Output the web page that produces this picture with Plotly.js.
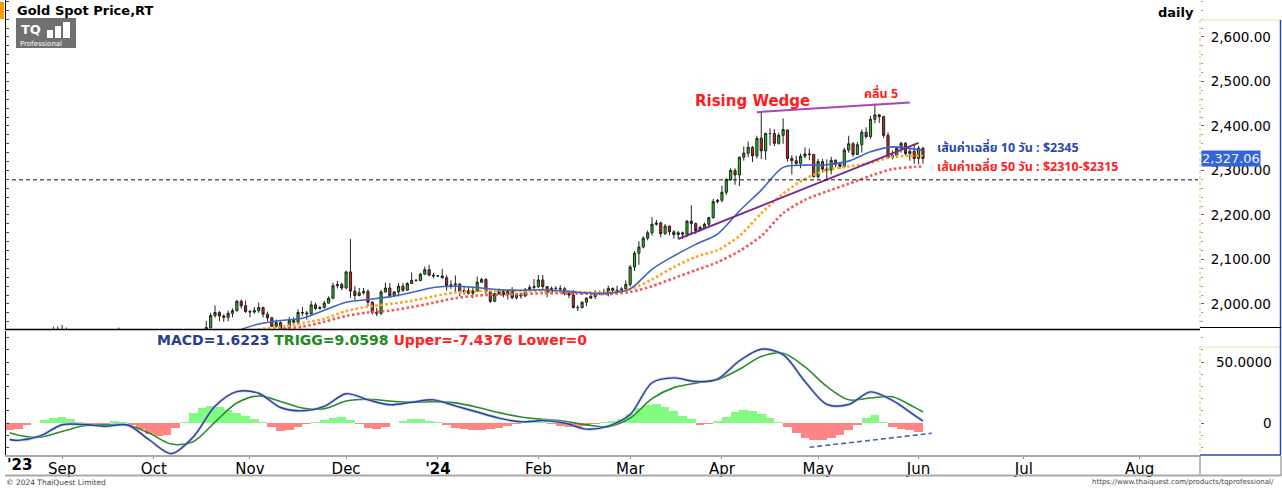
<!DOCTYPE html>
<html><head><meta charset="utf-8">
<script src="https://cdn.plot.ly/plotly-3.0.1.min.js"></script>
<style>html,body{margin:0;padding:0;background:#fff;}#chart{width:1282px;height:488px;}</style>
</head><body><div id="chart"></div>
<script>
// ---------------- DATA ----------------
const firstDate = '2023-08-16';
const open = [
 1902,1891,1889,1889,1894,1898,1915,1917,1914,1920,1937,1943,
 1940,1940,1939,1926,1916,1919,1919,1922,1913,1908,1910,1924,1933,1931,1930,1920,1925,1915,1901,1875,1864,
 1848,1828,1822,1821,1820,1833,1861,1860,1874,1868,1932,1920,1923,1947,1974,1981,1973,1970,1979,1985,2006,1996,
 1983,1982,1985,1992,1977,1969,1950,1958,1940,1946,1963,1959,1981,1980,1978,1998,1990,1992,2002,2013,2041,2044,
 2036,2072,2029,2019,2025,2028,2004,1981,1979,2027,2036,2019,2027,2040,2031,2046,2053,2053,2067,2077,2065,
 2063,2063,2059,2041,2043,2045,2028,2030,2024,2029,2049,2055,2028,2006,2023,2029,2021,2029,2014,2021,2018,2032,2037,
 2039,2054,2039,2025,2035,2035,2034,2024,2020,1992,1992,2004,2013,2017,2025,2025,2024,2035,2031,2029,2034,
 2044,2083,2114,2128,2148,2160,2179,2182,2158,2175,2162,2156,2160,2157,2186,2181,2165,2172,2179,2194,2230,
 2233,2251,2280,2300,2290,2330,2339,2352,2333,2373,2344,2383,2383,2361,2379,2391,2327,2322,2316,2332,2337,2336,
 2286,2320,2303,2301,2323,2314,2309,2346,2360,2336,2358,2386,2376,2415,2425,2421,2379,2329,2334,2350,2361,2338,2343,
 2327,2350];
const high = [
 1904,1896,1894,1896,1903,1918,1922,1924,1923,1938,1949,1949,
 1953,1947,1942,1929,1924,1932,1930,1926,1916,1916,1926,1937,1936,1947,1932,1930,1927,1917,1903,1880,1879,
 1850,1832,1826,1824,1836,1865,1866,1877,1880,1933,1933,1937,1962,1980,1997,1984,1977,1985,1990,2009,2010,2008,
 1987,1993,2003,1994,1983,1971,1965,1961,1947,1971,1970,1988,1993,1984,2007,2003,1996,2007,2017,2048,2052,2048,
 2075,2146,2040,2036,2036,2033,2006,1991,2031,2048,2047,2029,2047,2047,2049,2071,2056,2070,2084,2088,2070,
 2064,2079,2065,2053,2064,2046,2040,2038,2039,2062,2059,2058,2032,2026,2035,2033,2031,2038,2024,2025,2036,2043,2056,
 2065,2065,2040,2039,2040,2042,2038,2026,2031,1998,2006,2015,2022,2031,2030,2034,2041,2037,2041,2038,2053,
 2088,2119,2141,2152,2165,2195,2189,2185,2180,2176,2166,2164,2163,2189,2222,2183,2176,2183,2196,2236,2236,
 2266,2282,2305,2305,2331,2354,2365,2355,2378,2431,2385,2395,2393,2385,2417,2392,2334,2333,2338,2352,2349,2337,
 2326,2326,2325,2331,2325,2320,2351,2378,2364,2364,2392,2397,2422,2450,2427,2423,2386,2345,2354,2365,2364,2352,2360,
 2355,2353];
const low = [
 1890,1885,1884,1888,1893,1896,1912,1904,1913,1917,1935,1937,
 1931,1936,1915,1915,1914,1915,1917,1908,1905,1901,1909,1923,1926,1926,1913,1919,1913,1895,1873,1858,1846,
 1827,1815,1817,1816,1810,1832,1853,1856,1865,1868,1909,1916,1922,1941,1969,1961,1960,1961,1970,1983,1990,1980,
 1970,1978,1980,1970,1961,1948,1947,1935,1932,1939,1956,1953,1973,1965,1975,1986,1987,1990,2001,2011,2035,2031,
 2033,2014,2009,2017,2021,1995,1976,1973,1975,2026,2015,2016,2017,2027,2030,2045,2050,2051,2065,2062,2058,
 2062,2057,2030,2034,2024,2017,2021,2021,2013,2028,2047,2022,2002,2005,2021,2015,2010,2011,2010,2012,2016,2030,2031,
 2036,2030,2015,2022,2029,2026,2019,2013,1990,1984,1990,1995,2012,2011,2020,2020,2017,2025,2025,2024,2031,
 2038,2074,2088,2125,2143,2154,2176,2150,2155,2154,2147,2146,2146,2150,2157,2157,2163,2169,2175,2192,2226,
 2228,2245,2276,2268,2265,2322,2330,2319,2327,2326,2324,2356,2355,2358,2360,2320,2291,2310,2305,2327,2323,2285,
 2282,2296,2277,2291,2307,2303,2306,2340,2331,2335,2340,2372,2371,2406,2407,2373,2326,2325,2328,2340,2334,2322,2315,
 2314,2315];
const close = [
 1891,1889,1889,1894,1898,1915,1917,1914,1920,1937,1943,1940,
 1940,1939,1926,1916,1919,1919,1922,1913,1908,1910,1924,1933,1931,1930,1920,1925,1915,1901,1875,1864,1848,
 1828,1822,1821,1820,1833,1861,1860,1874,1868,1932,1920,1923,1947,1974,1981,1973,1970,1979,1985,2006,1996,1983,
 1982,1985,1992,1977,1969,1950,1958,1940,1946,1963,1959,1981,1980,1978,1998,1990,1992,2002,2013,2041,2044,2036,
 2072,2029,2019,2025,2028,2004,1981,1979,2027,2036,2019,2027,2040,2031,2046,2053,2053,2067,2077,2065,2063,
 2063,2059,2041,2043,2045,2028,2030,2024,2029,2049,2055,2028,2006,2023,2029,2021,2029,2014,2021,2018,2032,2037,2039,
 2054,2039,2025,2035,2035,2034,2024,2020,1992,1992,2004,2013,2017,2025,2025,2024,2035,2031,2029,2034,2044,
 2083,2114,2128,2148,2160,2179,2182,2158,2175,2162,2156,2160,2157,2186,2181,2165,2172,2179,2194,2230,2233,
 2251,2280,2300,2290,2330,2339,2352,2333,2372,2344,2383,2383,2361,2379,2392,2327,2322,2316,2332,2337,2336,2286,
 2320,2303,2301,2323,2314,2309,2346,2360,2336,2358,2386,2376,2415,2425,2421,2379,2329,2334,2350,2361,2338,2343,2327,
 2350,2327.06];

// moving averages (weekly samples)
const maDates = ['2023-10-13','2023-10-20','2023-10-27','2023-11-03','2023-11-10','2023-11-17','2023-11-24','2023-12-01','2023-12-08','2023-12-15','2023-12-22','2023-12-29','2024-01-05','2024-01-12','2024-01-19','2024-01-26','2024-02-02','2024-02-09','2024-02-16','2024-02-23','2024-03-01','2024-03-08','2024-03-15','2024-03-22','2024-03-29','2024-04-05','2024-04-12','2024-04-19','2024-04-26','2024-05-03','2024-05-10','2024-05-17','2024-05-24','2024-05-31','2024-06-04'];
const maBlue   = [1880,1915,1939,1955,1963,1968,1986,2004,2010,2016,2026,2037,2040,2037,2032,2031,2032,2029,2025,2024,2034,2078,2108,2134,2157,2209,2256,2307,2312,2313,2321,2342,2353,2348,2345];
const maOrange = [1860,1895,1925,1943,1948,1957,1967,1984,1994,2000,2007,2017,2026,2029,2030,2029,2029,2028,2026,2026,2033,2055,2083,2106,2121,2153,2204,2248,2281,2301,2309,2317,2331,2333,2333];
const maRed    = [1850,1880,1905,1925,1943,1949,1960,1973,1981,1985,1993,2003,2013,2019,2021,2022,2024,2024,2023,2022,2027,2040,2058,2076,2094,2119,2153,2204,2234,2253,2270,2288,2303,2308,2309];

// MACD panel (weekly samples)
const macdDates = ['2023-08-16','2023-08-18','2023-08-25','2023-09-01','2023-09-08','2023-09-15','2023-09-22','2023-09-29','2023-10-06','2023-10-13','2023-10-20','2023-10-27','2023-11-03','2023-11-10','2023-11-17','2023-11-24','2023-12-01','2023-12-08','2023-12-15','2023-12-22','2023-12-29','2024-01-05','2024-01-12','2024-01-19','2024-01-26','2024-02-02','2024-02-09','2024-02-16','2024-02-23','2024-03-01','2024-03-08','2024-03-15','2024-03-22','2024-03-29','2024-04-05','2024-04-12','2024-04-19','2024-04-26','2024-05-03','2024-05-10','2024-05-17','2024-05-24','2024-05-31','2024-06-04'];
const macdLine = [-13.5,-14.2,-10.6,-1.4,-1.2,-2.7,-1.6,-13.9,-25.1,-11.5,13.8,25.7,24.4,12.7,10,13.6,24,19,15,17,19,14,9,4,1,2,0,-5,-2.5,7,33,37,34,36,51,60.5,56,34,15.3,15.2,25.5,18.5,6.5,1.6223];
const triggLine = [-8,-10,-11.7,-6.9,-2.3,-1.5,-1.5,-8.4,-17.2,-15.3,0.8,16.4,22.2,17.7,12.3,11.8,18,19.5,18,17,17.5,16.5,13,8.5,5,3,1.5,-1.5,-3,4,20,29,32.7,35.5,44,54.5,57.2,46,30,19,20.5,21.5,13,9.0598];
// histogram, one value every 2 trading days from histStart
const histStart = '2023-08-16', histStep = 2;
const macdHist = [-5.5,-4.5,-2,0.3,2.5,4.5,4.7,3,1,-0.5,-2.5,-1,1.4,0.5,-1.5,-5,-9,-11,-9.5,-4,1,8,12.5,14.2,13,10.5,8.5,6,3.5,1,-3,-6.8,-5.5,-3,-0.5,0.5,2.5,4,4.9,2.5,-1,-4,-5,-3,0,2,3,3,2,0.5,-2,-4,-5,-6,-6,-5,-4,-2.5,-1,1,2,1,-1,-2.5,-3.5,-3.5,-2.5,-1,1,2,3,7,12,15,15.9,13,10,6,3,-2,-1,1.5,5,9,10.9,10,7,4,1,-3,-8,-12,-13.7,-13.7,-12.5,-10,-6,-2,4,6.8,1,-3,-5,-6,-7.4];
const macdHeader = {macd:'1.6223', trigg:'9.0598', upper:'-7.4376', lower:'0'};

// drawn annotations
const wedgeUpper = {dates:['2024-04-11','2024-05-30'], prices:[2431,2453]};
const wedgeLower = {dates:['2024-03-18','2024-06-03'], prices:[2146,2362]};
const divergence = {dates:['2024-04-29','2024-06-06'], values:[-19.9,-8.4]};
const supportLevel = 2279;
const priceTicks = [2000,2100,2200,2300,2400,2500,2600];
const macdTicks = [0,50];
const monthNames = ['Jan','Feb','Mar','Apr','May','Jun','Jul','Aug','Sep','Oct','Nov','Dec'];
const futureMonths = ['2024-07-01','2024-08-01'];

// ---------------- CALENDAR ----------------
function weekdayCalendar(a,b){const out=[];let d=new Date(a+'T00:00:00Z');const e=new Date(b+'T00:00:00Z');
 while(d<=e){const w=d.getUTCDay();if(w!==0&&w!==6)out.push(d.toISOString().slice(0,10));d=new Date(d.getTime()+86400000);}return out;}
const calendar = weekdayCalendar(firstDate,'2024-06-07');
const dates = calendar.slice(0, close.length);
if (dates[dates.length-1] !== '2024-06-04' || open.length!==close.length || high.length!==close.length || low.length!==close.length)
  throw new Error('length mismatch '+dates[dates.length-1]+' '+open.length+' '+high.length+' '+low.length+' '+close.length);
const base = calendar.indexOf('2023-09-01');
const xOf = d => calendar.indexOf(d) - base;
const xs = dates.map(xOf);
const lastX = xs[xs.length-1];
const futureScale = 0.855; // projected (calendar-day) spacing after last bar
const dayMs = 86400000;

// month ticks
const tickvals=[], ticktext=[];
let prevM = dates[0].slice(0,7);
dates.forEach((d,i)=>{const m=d.slice(0,7); if(m!==prevM){prevM=m; const mo=+d.slice(5,7);
  tickvals.push(xs[i]); ticktext.push(mo===1 ? "<b>'"+d.slice(2,4)+"</b>" : monthNames[mo-1]);}});
futureMonths.forEach(d=>{const days=(new Date(d+'T00:00:00Z')-new Date(dates[dates.length-1]+'T00:00:00Z'))/dayMs;
  tickvals.push(lastX+days*futureScale); ticktext.push(monthNames[+d.slice(5,7)-1]);});

// ---------------- PIXEL HELPERS (decorations) ----------------
const PL=6, PR=1200, PB=455;
const fx = px => (px-PL)/(PR-PL);
const fy = py => (PB-py)/PB;
const FONT = 'DejaVu Sans, Verdana, sans-serif';
const THAI = "'Noto Sans Thai', Tahoma, 'Leelawadee UI', 'DejaVu Sans', sans-serif";

// ---------------- TRACES ----------------
const traces = [];
traces.push({type:'scatter', mode:'lines', x:maDates.map(xOf), y:maRed, xaxis:'x', yaxis:'y',
  line:{color:'#f25a5a', width:2.6, dash:'2.6px,2.4px', shape:'spline', smoothing:0.8}, hoverinfo:'skip'});
traces.push({type:'scatter', mode:'lines', x:maDates.map(xOf), y:maOrange, xaxis:'x', yaxis:'y',
  line:{color:'#ffa41e', width:2.6, dash:'2.6px,2.4px', shape:'spline', smoothing:0.8}, hoverinfo:'skip'});
traces.push({type:'scatter', mode:'lines', x:maDates.map(xOf), y:maBlue, xaxis:'x', yaxis:'y',
  line:{color:'#3f63c4', width:1.6, shape:'spline', smoothing:0.8}, hoverinfo:'skip'});
traces.push({type:'scatter', mode:'lines', x:wedgeLower.dates.map(xOf), y:wedgeLower.prices, xaxis:'x', yaxis:'y',
  line:{color:'#7b2a8c', width:2}, hoverinfo:'skip'});
traces.push({type:'scatter', mode:'lines', x:wedgeUpper.dates.map(xOf), y:wedgeUpper.prices, xaxis:'x', yaxis:'y',
  line:{color:'#a646b8', width:2}, hoverinfo:'skip'});
traces.push({type:'candlestick', x:xs, open:open, high:high, low:low, close:close, xaxis:'x', yaxis:'y',
  increasing:{line:{color:'#222', width:1}, fillcolor:'#16c816'},
  decreasing:{line:{color:'#222', width:1}, fillcolor:'#e21a1a'}, whiskerwidth:0, hoverinfo:'skip'});

// MACD panel
const hx = macdHist.map((v,k)=> xOf(histStart) + k*histStep);
traces.push({type:'bar', x:hx, y:macdHist, xaxis:'x', yaxis:'y2', width:histStep,
  marker:{color:macdHist.map(v=> v>=0 ? '#82fb82' : '#ff8585'), line:{width:0}}, hoverinfo:'skip'});
traces.push({type:'scatter', mode:'lines', x:macdDates.map(xOf), y:triggLine, xaxis:'x', yaxis:'y2',
  line:{color:'#2a8c2a', width:1.6, shape:'spline', smoothing:0.9}, hoverinfo:'skip'});
traces.push({type:'scatter', mode:'lines', x:macdDates.map(xOf), y:macdLine, xaxis:'x', yaxis:'y2',
  line:{color:'rgba(160,178,228,0.6)', width:3, shape:'spline', smoothing:0.9}, hoverinfo:'skip'});
traces.push({type:'scatter', mode:'lines', x:macdDates.map(xOf), y:macdLine, xaxis:'x', yaxis:'y2',
  line:{color:'#2c3f92', width:1.4, shape:'spline', smoothing:0.9}, hoverinfo:'skip'});
traces.push({type:'scatter', mode:'lines', x:divergence.dates.map(xOf), y:divergence.values, xaxis:'x', yaxis:'y2',
  line:{color:'#4a64b4', width:1.6, dash:'5px,3px'}, hoverinfo:'skip'});

// ---------------- LAYOUT ----------------
const priceRange=[1943.8,2683.1], macdRange=[-26.2,75.4];
const shapes = [
  {type:'line', xref:'paper', yref:'paper', x0:fx(5), x1:1, y0:fy(329.5), y1:fy(329.5), line:{color:'#000', width:1.5}},
  {type:'line', xref:'paper', yref:'y', x0:fx(12), x1:fx(1198), y0:supportLevel, y1:supportLevel, line:{color:'#111', width:1, dash:'4px,3px'}},
  {type:'line', xref:'paper', yref:'paper', x0:1, x1:1, y0:fy(20), y1:fy(327), line:{color:'#ecd27a', width:1.2, dash:'dot'}},
  {type:'line', xref:'paper', yref:'paper', x0:1, x1:fx(1280), y0:fy(20), y1:fy(20), line:{color:'#f3e2a6', width:1}},
  {type:'line', xref:'paper', yref:'paper', x0:1, x1:1, y0:fy(347), y1:fy(455), line:{color:'#ecd27a', width:1.2, dash:'dot'}},
  {type:'line', xref:'paper', yref:'paper', x0:1, x1:fx(1280), y0:fy(347), y1:fy(347), line:{color:'#f3e2a6', width:1}},
  {type:'line', xref:'paper', yref:'paper', x0:fx(1280.5), x1:fx(1280.5), y0:fy(20), y1:fy(455), line:{color:'#2a48a8', width:1.5}},
  {type:'line', xref:'paper', yref:'paper', x0:1, x1:fx(1281), y0:fy(455), y1:fy(455), line:{color:'#2a48a8', width:1.5}},
  {type:'line', xref:'paper', yref:'paper', x0:1, x1:fx(1281), y0:fy(327.5), y1:fy(327.5), line:{color:'#000', width:1}},
  {type:'line', xref:'paper', yref:'paper', x0:fx(5), x1:fx(1281), y0:fy(475.5), y1:fy(475.5), line:{color:'#a9a9a9', width:2}},
  {type:'line', xref:'paper', yref:'paper', x0:1, x1:1, y0:fy(456), y1:fy(476), line:{color:'#a9a9a9', width:1.5}},
  {type:'line', xref:'paper', yref:'paper', x0:fx(1281), x1:fx(1281), y0:fy(456), y1:fy(476), line:{color:'#a9a9a9', width:1.5}},
  {type:'rect', xref:'paper', yref:'paper', x0:fx(0), x1:fx(4), y0:fy(2), y1:fy(19), fillcolor:'#ff9a00', line:{width:0}},
  {type:'rect', xref:'paper', yref:'paper', x0:fx(16), x1:fx(76), y0:fy(18), y1:fy(48), fillcolor:'#707070', line:{width:0}},
  {type:'rect', xref:'paper', yref:'paper', x0:fx(47), x1:fx(53), y0:fy(30), y1:fy(38), fillcolor:'#fff', line:{width:0}},
  {type:'rect', xref:'paper', yref:'paper', x0:fx(55), x1:fx(61), y0:fy(26), y1:fy(38), fillcolor:'#fff', line:{width:0}},
  {type:'rect', xref:'paper', yref:'paper', x0:fx(63), x1:fx(70), y0:fy(22), y1:fy(38), fillcolor:'#fff', line:{width:0}}
];

const ann = (o)=>Object.assign({showarrow:false, xref:'paper', yref:'paper', xanchor:'left', yanchor:'middle'}, o);
const annotations = [
  ann({x:fx(15), y:fy(10), text:'<b>Gold Spot Price,RT</b>', font:{family:FONT, size:13, color:'#000'}}),
  ann({x:fx(1196), y:fy(12), xanchor:'right', text:'<b>daily</b>', font:{family:FONT, size:13, color:'#000'}}),
  ann({x:fx(19), y:fy(30), text:'<b>TQ</b>', font:{family:FONT, size:13, color:'#fff'}}),
  ann({x:fx(18), y:fy(43.5), text:'Professional', font:{family:FONT, size:7, color:'#fff'}}),
  ann({x:fx(5), y:fy(465), text:"<b>'23</b>", font:{family:FONT, size:15, color:'#000'}}),
  ann({x:fx(4), y:fy(482), text:'© 2024 ThaiQuest Limited', font:{family:FONT, size:7.5, color:'#444'}}),
  ann({x:fx(1276), y:fy(482), xanchor:'right', text:'https://www.thaiquest.com/products/tqprofessional/', font:{family:FONT, size:7, color:'#444'}}),
  ann({x:fx(752), y:fy(101), xanchor:'center', text:'<b>Rising Wedge</b>', font:{family:FONT, size:15, color:'#ff1c1c'}}),
  ann({x:fx(881), y:fy(94), xanchor:'center', text:'<b>คลื่น 5</b>', font:{family:THAI, size:12.5, color:'#ff1c1c'}}),
  ann({x:fx(935), y:fy(148.5), text:'<b>เส้นค่าเฉลี่ย 10 วัน : $2345</b>', font:{family:THAI, size:12.5, color:'#2c48a8'}}),
  ann({x:fx(935), y:fy(167), text:'<b>เส้นค่าเฉลี่ย 50 วัน : $2310-$2315</b>', font:{family:THAI, size:12.5, color:'#ff2020'}}),
  ann({x:fx(155), y:fy(339.5), text:'<b><span style="color:#283d8e">MACD='+macdHeader.macd+'</span> <span style="color:#1f8a1f">TRIGG='+macdHeader.trigg+'</span> <span style="color:#ff2222">Upper='+macdHeader.upper+' Lower='+macdHeader.lower+'</span></b>', font:{family:FONT, size:14}}),
  ann({x:fx(1200.5), yref:'y', y:close[close.length-1], text:close[close.length-1].toLocaleString('en-US',{minimumFractionDigits:2}),
       bgcolor:'#3465d8', borderpad:0, font:{family:FONT, size:13, color:'#eef2ff'}})
];
macdTicks.forEach(v=>annotations.push(ann({x:fx(1274), xanchor:'right', yref:'y2', y:v,
  text: v===0 ? '0' : v.toFixed(4), font:{family:FONT, size:13.5, color:'#000'}})));

const layout = {
  width:1282, height:488, margin:{l:PL, r:1282-PR, t:0, b:488-PB},
  paper_bgcolor:'#fff', plot_bgcolor:'#fff', showlegend:false, bargap:0,
  font:{family:FONT, size:13, color:'#000'},
  xaxis:{range:[-12.83,260.4], anchor:'y2', tickvals:tickvals, ticktext:ticktext, ticks:'outside', ticklen:2,
    tickcolor:'#888', showgrid:false, zeroline:false, showline:true, linecolor:'#a9a9a9', linewidth:2,
    ticklabelstandoff:-3, tickfont:{family:FONT, size:15, color:'#000'}, rangeslider:{visible:false}, fixedrange:true},
  yaxis:{domain:[fy(329),1], range:priceRange, side:'right', anchor:'x', tickvals:priceTicks, tickformat:',.2f',
    ticks:'outside', ticklen:3, tickcolor:'#666', showgrid:false, zeroline:false, showline:false,
    ticklabelstandoff:4, tickfont:{family:FONT, size:13.5, color:'#000'},
    minor:{ticks:'outside', ticklen:2, dtick:20, tickcolor:'#999'}},
  yaxis2:{domain:[0,fy(331)], range:macdRange, side:'right', anchor:'x', tickvals:macdTicks, showticklabels:false,
    ticks:'outside', ticklen:3, tickcolor:'#666', showgrid:false, zeroline:false, showline:false,
    minor:{ticks:'outside', ticklen:2, dtick:10, tickcolor:'#999'}},
  yaxis3:{overlaying:'y', side:'left', anchor:'x', range:priceRange, showticklabels:false, ticks:'inside', ticklen:3,
    dtick:20, tickcolor:'#444', showline:true, linecolor:'#000', linewidth:1, showgrid:false, zeroline:false},
  yaxis4:{overlaying:'y2', side:'left', anchor:'x', range:macdRange, showticklabels:false, ticks:'inside', ticklen:3,
    dtick:10, tickcolor:'#444', showline:true, linecolor:'#000', linewidth:1, showgrid:false, zeroline:false},
  shapes:shapes, annotations:annotations
};
traces.push({type:'scatter', x:[], y:[], xaxis:'x', yaxis:'y3', hoverinfo:'skip'});
traces.push({type:'scatter', x:[], y:[], xaxis:'x', yaxis:'y4', hoverinfo:'skip'});

Plotly.newPlot('chart', traces, layout, {staticPlot:true, displayModeBar:false});
</script></body></html>
